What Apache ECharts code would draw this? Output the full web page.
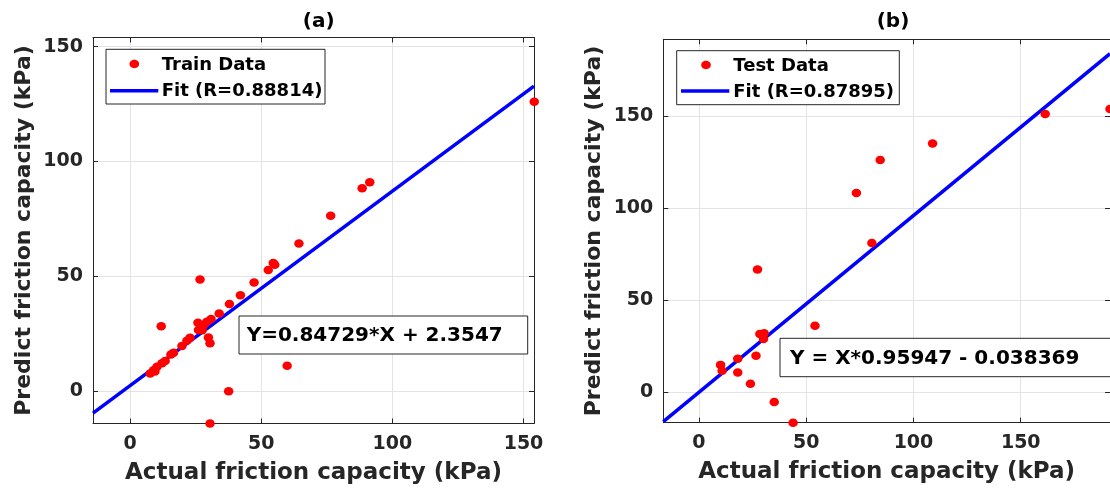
<!DOCTYPE html>
<html>
<head>
<meta charset="utf-8">
<script src="https://cdn.jsdelivr.net/npm/echarts@6/dist/echarts.min.js"></script>
<style>
html,body{margin:0;padding:0;background:#fff;}
#chart{width:1110px;height:492px;}
</style>
</head>
<body>
<div id="chart"></div>
<script>
// ---- data ----
const panelTitles = ['(a)', '(b)'];
const xAxisTitle = 'Actual friction capacity (kPa)';
const yAxisTitle = 'Predict friction capacity (kPa)';
const tickValues = [0, 50, 100, 150];

const trainLimits = [-14.1, 154.0];
const testLimits = [-16.6, 191.6];

const trainActual = [154.1, 91.4, 88.5, 76.5, 64.4, 54.6, 55.2, 52.7, 47.3, 42.1, 37.9, 34.0, 30.9, 29.3, 25.9, 28.0, 26.1, 27.0, 27.5, 29.9, 30.5, 26.7, 11.9, 22.9, 21.7, 19.8, 16.6, 15.6, 13.4, 12.2, 10.3, 9.0, 7.7, 9.5, 59.9, 37.6, 30.5];
const trainPredicted = [126.0, 91.0, 88.4, 76.4, 64.3, 55.8, 55.0, 52.7, 47.3, 41.8, 37.9, 33.8, 31.4, 30.2, 29.8, 28.7, 26.6, 27.5, 26.5, 23.4, 20.8, 48.6, 28.3, 23.2, 21.9, 19.6, 16.7, 16.0, 13.1, 12.1, 10.6, 9.1, 7.7, 8.5, 11.0, -0.1, -14.1];

const testActual = [191.6, 161.4, 108.9, 84.5, 73.4, 80.6, 27.3, 54.1, 30.4, 28.4, 30.1, 26.6, 18.1, 10.1, 10.8, 18.1, 24.0, 35.1, 43.9];
const testPredicted = [153.8, 151.1, 135.0, 126.1, 108.2, 81.0, 66.6, 36.0, 32.0, 31.6, 28.8, 19.7, 18.1, 14.8, 11.6, 10.6, 4.5, -5.3, -16.6];

// fit line end points (Y=0.84729*X+2.3547 and Y=X*0.95947-0.038369 at the axis limits)
const trainFitX = [-14.1, 154.0];
const trainFitY = [-9.59, 132.84];
const testFitX = [-16.6, 191.6];
const testFitY = [-15.97, 183.80];

const trainLegend = ['Train Data', 'Fit (R=0.88814)'];
const testLegend = ['Test Data', 'Fit (R=0.87895)'];
const trainEquation = 'Y=0.84729*X + 2.3547';
const testEquation = 'Y = X*0.95947 - 0.038369';

// ---- styling ----
const FONT = 'DejaVu Sans';
const AXC = '#262626';
const GRIDC = '#e3e3e3';

function pairs(xs, ys) { return xs.map((x, i) => [x, ys[i]]); }

function makeX(gridIndex, lim, position, primary) {
  return {
    type: 'value', gridIndex, position, min: lim[0], max: lim[1],
    name: primary ? xAxisTitle : '',
    nameLocation: 'middle', nameGap: 38,
    nameTextStyle: { fontFamily: FONT, fontWeight: 'bold', fontSize: 23, color: AXC },
    axisLine: { show: true, onZero: false, lineStyle: { color: AXC, width: 1 } },
    axisTick: { show: true, inside: true, length: 5, customValues: tickValues, lineStyle: { color: AXC } },
    axisLabel: { show: primary, customValues: tickValues, margin: 11, fontFamily: FONT, fontWeight: 'bold', fontSize: 19, color: AXC },
    splitLine: { show: primary, lineStyle: { color: GRIDC, width: 1 } }
  };
}
function makeY(gridIndex, lim, position, primary) {
  return {
    type: 'value', gridIndex, position, min: lim[0], max: lim[1],
    name: primary ? yAxisTitle : '',
    nameLocation: 'middle', nameGap: 58, nameRotate: 90,
    nameTextStyle: { fontFamily: FONT, fontWeight: 'bold', fontSize: 22, color: AXC },
    axisLine: { show: true, onZero: false, lineStyle: { color: AXC, width: 1 } },
    axisTick: { show: true, inside: true, length: 5, customValues: tickValues, lineStyle: { color: AXC } },
    axisLabel: { show: primary, customValues: tickValues, margin: 10, fontFamily: FONT, fontWeight: 'bold', fontSize: 19, color: AXC },
    splitLine: { show: primary, lineStyle: { color: GRIDC, width: 1 } }
  };
}

function legendGraphics(box, marker, lineY, lineX, textX, labels) {
  return [
    { type: 'rect', z: 100, shape: { x: box[0], y: box[1], width: box[2], height: box[3] },
      style: { fill: '#fff', stroke: AXC, lineWidth: 1 } },
    { type: 'ellipse', z: 101, shape: { cx: marker[0], cy: marker[1], rx: 4.8, ry: 4.2 },
      style: { fill: '#ff0000' } },
    { type: 'line', z: 101, shape: { x1: lineX[0], y1: lineY, x2: lineX[1], y2: lineY },
      style: { stroke: '#0000ff', lineWidth: 3.5 } },
    { type: 'text', z: 101, x: textX, y: marker[1] + 1,
      style: { text: labels[0], fontFamily: FONT, fontWeight: 'bold', fontSize: 18, fill: '#000', verticalAlign: 'middle', align: 'left' } },
    { type: 'text', z: 101, x: textX, y: lineY + 1,
      style: { text: labels[1], fontFamily: FONT, fontWeight: 'bold', fontSize: 18, fill: '#000', verticalAlign: 'middle', align: 'left' } }
  ];
}
function eqGraphics(box, textX, textY, label) {
  return [
    { type: 'rect', z: 100, shape: { x: box[0], y: box[1], width: box[2], height: box[3] },
      style: { fill: '#fff', stroke: AXC, lineWidth: 1 } },
    { type: 'text', z: 101, x: textX, y: textY,
      style: { text: label, fontFamily: FONT, fontWeight: 'bold', fontSize: 20, fill: '#000', verticalAlign: 'middle', align: 'left' } }
  ];
}

const chart = echarts.init(document.getElementById('chart'), null, { renderer: 'canvas' });
const option = {
  backgroundColor: '#fff',
  animation: false,
  title: [
    { text: panelTitles[0], left: 313.7, top: 7, textAlign: 'center',
      textStyle: { fontFamily: FONT, fontWeight: 'bold', fontSize: 20, color: '#000' } },
    { text: panelTitles[1], left: 888, top: 7, textAlign: 'center',
      textStyle: { fontFamily: FONT, fontWeight: 'bold', fontSize: 20, color: '#000' } }
  ],
  grid: [
    { left: 93, top: 37.5, width: 441, height: 386, containLabel: false },
    { left: 663.3, top: 39.3, width: 449.3, height: 383.4, containLabel: false }
  ],
  xAxis: [
    makeX(0, trainLimits, 'bottom', true),
    makeX(0, trainLimits, 'top', false),
    makeX(1, testLimits, 'bottom', true),
    makeX(1, testLimits, 'top', false)
  ],
  yAxis: [
    makeY(0, trainLimits, 'left', true),
    makeY(0, trainLimits, 'right', false),
    makeY(1, testLimits, 'left', true),
    makeY(1, testLimits, 'right', false)
  ],
  series: [
    { type: 'line', xAxisIndex: 0, yAxisIndex: 0, data: pairs(trainFitX, trainFitY),
      showSymbol: false, clip: false, lineStyle: { color: '#0000ff', width: 3.5 }, z: 3 },
    { type: 'scatter', xAxisIndex: 0, yAxisIndex: 0, data: pairs(trainActual, trainPredicted),
      symbol: 'circle', symbolSize: [9.5, 8.5], clip: false, itemStyle: { color: '#ff0000', opacity: 1 }, z: 4 },
    { type: 'line', xAxisIndex: 2, yAxisIndex: 2, data: pairs(testFitX, testFitY),
      showSymbol: false, clip: true, lineStyle: { color: '#0000ff', width: 3.5 }, z: 3 },
    { type: 'scatter', xAxisIndex: 2, yAxisIndex: 2, data: pairs(testActual, testPredicted),
      symbol: 'circle', symbolSize: [9.5, 8.5], clip: false, itemStyle: { color: '#ff0000', opacity: 1 }, z: 4 }
  ],
  graphic: [].concat(
    legendGraphics([106, 49.3, 219, 54.7], [134.3, 64], 90.7, [110, 158.3], 161.7, trainLegend),
    legendGraphics([676.7, 50.7, 222.6, 54], [706, 65], 91, [681, 729.3], 733.3, testLegend),
    eqGraphics([239, 316, 288.7, 38], 246.7, 335.5, trainEquation),
    eqGraphics([780, 338.3, 345, 38.4], 790, 358.5, testEquation)
  )
};
chart.setOption(option);
</script>
</body>
</html>
